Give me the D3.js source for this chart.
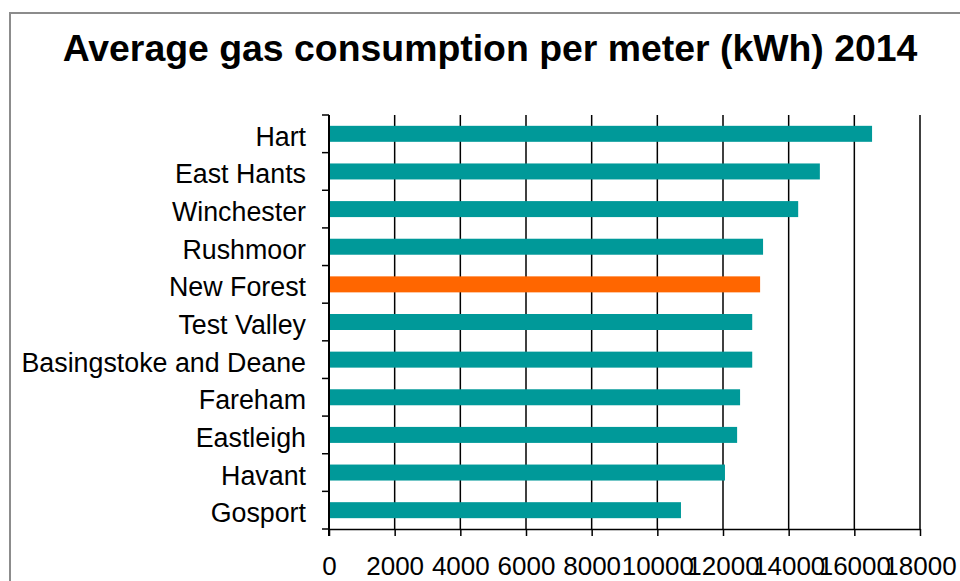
<!DOCTYPE html>
<html>
<head>
<meta charset="utf-8">
<script src="https://cdn.jsdelivr.net/npm/d3@7"></script>
<style>
  body { margin: 0; background: #fff; }
  svg { display: block; font-family: Arial, "Liberation Sans", sans-serif; }
</style>
</head>
<body>
<svg width="960" height="581"></svg>
<script>
"use strict";

// districts, top to bottom
const districts = ["Hart", "East Hants", "Winchester", "Rushmoor", "New Forest", "Test Valley",
  "Basingstoke and Deane", "Fareham", "Eastleigh", "Havant", "Gosport"];
// average gas consumption per meter (kWh)
const consumption = [16540, 14950, 14290, 13220, 13130, 12890, 12890, 12520, 12430, 12060, 10720];
const highlight = "New Forest";
const xTicks = [0, 2000, 4000, 6000, 8000, 10000, 12000, 14000, 16000, 18000];

const svg = d3.select("svg");

// grey frame round the chart (right and bottom edges fall outside the picture)
svg.append("rect")
  .attr("x", 10).attr("y", 13)
  .attr("width", 1000).attr("height", 1000)
  .attr("fill", "none")
  .attr("stroke", "#8c8c8c")
  .attr("stroke-width", 2);

svg.append("text")
  .attr("x", 490).attr("y", 61)
  .attr("text-anchor", "middle")
  .style("font-size", "37.4px")
  .style("font-weight", "bold")
  .text("Average gas consumption per meter (kWh) 2014");

const plotLeft = 329, plotRight = 920, plotTop = 115, plotBottom = 529;

const x = d3.scaleLinear().domain([0, 18000]).range([plotLeft, plotRight]);
const y = d3.scaleBand().domain(districts).range([plotTop, plotBottom])
  .paddingInner(0.575).paddingOuter(0.2875);

// vertical gridlines
svg.append("g")
  .selectAll("line")
  .data(xTicks.slice(1))
  .join("line")
  .attr("x1", d => x(d)).attr("x2", d => x(d))
  .attr("y1", plotTop).attr("y2", plotBottom)
  .attr("stroke", "#000")
  .attr("stroke-width", 1.5);

// bars
svg.append("g")
  .selectAll("rect")
  .data(districts)
  .join("rect")
  .attr("x", x(0))
  .attr("y", d => y(d))
  .attr("width", (d, i) => x(consumption[i]) - x(0))
  .attr("height", y.bandwidth())
  .attr("fill", d => d === highlight ? "#ff6600" : "#009999");

// bottom axis
const xAxis = svg.append("g")
  .attr("transform", `translate(0,${plotBottom})`)
  .call(d3.axisBottom(x).tickValues(xTicks).tickFormat(d3.format("d")).tickSize(7).tickSizeOuter(0));
xAxis.select(".domain").attr("stroke", "#000").attr("stroke-width", 1.5);
xAxis.selectAll(".tick line").attr("stroke", "#000").attr("stroke-width", 1.5);
xAxis.selectAll(".tick text")
  .attr("y", 46).attr("dy", 0)
  .attr("fill", "#000")
  .style("font-size", "26px")
  .style("font-family", "Arial, 'Liberation Sans', sans-serif");

// left axis: line with ticks at the category boundaries
const bounds = d3.range(districts.length + 1).map(i => plotTop + i * y.step());
svg.append("line")
  .attr("x1", plotLeft).attr("x2", plotLeft)
  .attr("y1", plotTop).attr("y2", plotBottom + 7)
  .attr("stroke", "#000").attr("stroke-width", 2);
svg.append("g")
  .selectAll("line")
  .data(bounds)
  .join("line")
  .attr("x1", plotLeft - 7).attr("x2", plotLeft)
  .attr("y1", d => d).attr("y2", d => d)
  .attr("stroke", "#000").attr("stroke-width", 1.5);

// category labels
svg.append("g")
  .selectAll("text")
  .data(districts)
  .join("text")
  .attr("x", 306)
  .attr("y", d => y(d) + y.bandwidth() / 2 + 12)
  .attr("text-anchor", "end")
  .style("font-size", "26.8px")
  .text(d => d);
</script>
</body>
</html>
